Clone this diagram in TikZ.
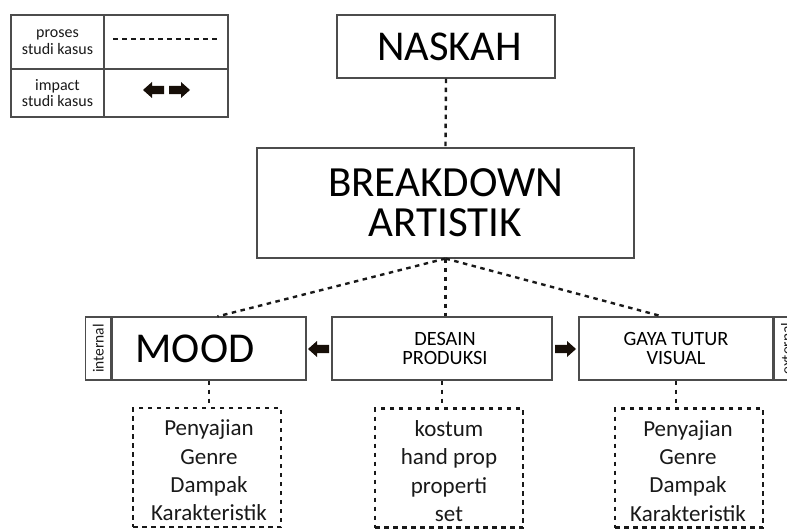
\documentclass[tikz,border=0pt]{standalone}
\usepackage{fontspec}
\setmainfont{Carlito}
\usetikzlibrary{calc}
\tikzset{
  box/.style={draw=black!70,line width=1.1pt,inner sep=0pt,align=center,text=black},
  strip/.style={draw=black!70,line width=1.1pt,inner sep=0pt,minimum width=25pt,minimum height=63pt},
  listbox/.style={draw=black!90,line width=2.4pt,dash pattern=on 4.5pt off 4.5pt,inner sep=0pt,minimum width=148pt,minimum height=119pt},
  dotline/.style={draw=black!90,line width=2.4pt,dash pattern=on 4.5pt off 4.5pt},
  arrowfill/.style={fill=black!88!brown},
  larr/.pic={\fill[arrowfill] (0,0) -- (9,-8) -- (9,-4.2) -- (21,-4.2) -- (21,4.2) -- (9,4.2) -- (9,8) -- cycle;},
  rarr/.pic={\fill[arrowfill] (0,0) -- (-9,-8) -- (-9,-4.2) -- (-21,-4.2) -- (-21,4.2) -- (-9,4.2) -- (-9,8) -- cycle;},
  listtext/.style={align=center,font=\fontsize{23}{28.3}\selectfont,text=black!90,anchor=north,inner sep=0pt},
  legtext/.style={align=center,font=\fontsize{16}{16.5}\selectfont,text=black!90},
  sidetext/.style={rotate=90,font=\fontsize{15.5}{16}\selectfont,text=black!90}
}
\begin{document}
\begin{tikzpicture}[x=1pt,y=-1pt]
\useasboundingbox (0,0) rectangle (787,529);
% legend
\node[box,minimum width=93pt,minimum height=54pt] (l1) at (57.5,42) {};
\node[box,minimum width=124pt,minimum height=54pt] (r1) at (166,42) {};
\node[box,minimum width=93pt,minimum height=48pt] (l2) at (57.5,93) {};
\node[box,minimum width=124pt,minimum height=48pt] (r2) at (166,93) {};
\node[legtext] (t1) at (l1) {proses\\studi kasus};
\node[legtext] (t2) at (l2) {impact\\studi kasus};
\coordinate (dl) at (113,39);
\coordinate (dr) at (218,39);
\draw[dotline] (dl) -- (dr);
\pic (la) at (143,90) {larr};
\pic (ra) at (190,90) {rarr};
% main boxes
\node[box,minimum width=218pt,minimum height=63pt,font=\fontsize{42.5}{44}\selectfont] (naskah) at (446,46.5) {\hspace*{7pt}NASKAH};
\node[box,minimum width=377pt,minimum height=110pt,font=\fontsize{43}{40}\selectfont] (bd) at (445.5,203) {BREAKDOWN\\ARTISTIK};
\node[box,minimum width=194pt,minimum height=63pt] (mood) at (209,348.5) {};
\node[font=\fontsize{42.5}{44}\selectfont,inner sep=0pt] (moodt) at ([xshift=-14pt]mood.center) {MOOD};
\node[strip,anchor=east] (internal) at (mood.west) {};
\node[sidetext] (tint) at (internal) {internal};
\node[box,minimum width=220pt,minimum height=63pt,font=\fontsize{20.3}{18.5}\selectfont] (desain) at (442,348.5) {\hspace*{6pt}DESAIN\\\hspace*{6pt}PRODUKSI};
\node[box,minimum width=194pt,minimum height=63pt,font=\fontsize{20.3}{18.5}\selectfont] (gaya) at (676,348.5) {GAYA TUTUR\\VISUAL};
\node[strip,anchor=west] (external) at (gaya.east) {};
\node[sidetext] (text) at (external) {external};
% arrows
\pic (a1) at (308,349) {larr};
\pic (a2) at (576,349) {rarr};
% connectors
\draw[dotline] (naskah.south) -- (bd.north);
\draw[dotline] (bd.south) -- ([xshift=106pt]mood.north west);
\draw[dotline] (bd.south) -- (bd.south |- desain.north);
\draw[dotline] (bd.south) -- ([xshift=84pt]gaya.north west);
% lists
\node[listbox] (ml) at (207,467.5) {};
\node[listbox] (dlst) at (449,468) {};
\node[listbox] (gl) at (689,468) {};
\draw[dotline] (mood.south) -- (mood.south |- ml.north);
\draw[dotline] (desain.south) -- (desain.south |- dlst.north);
\draw[dotline] (gaya.south) -- (gaya.south |- gl.north);
\node[listtext] (mt) at ([xshift=2pt,yshift=-13pt]ml.north) {Penyajian\\Genre\\Dampak\\Karakteristik};
\node[listtext] (dt) at ([yshift=-13pt]dlst.north) {kostum\\hand prop\\properti\\set};
\node[listtext] (gt) at ([xshift=-1pt,yshift=-13pt]gl.north) {Penyajian\\Genre\\Dampak\\Karakteristik};
\end{tikzpicture}
\end{document}
